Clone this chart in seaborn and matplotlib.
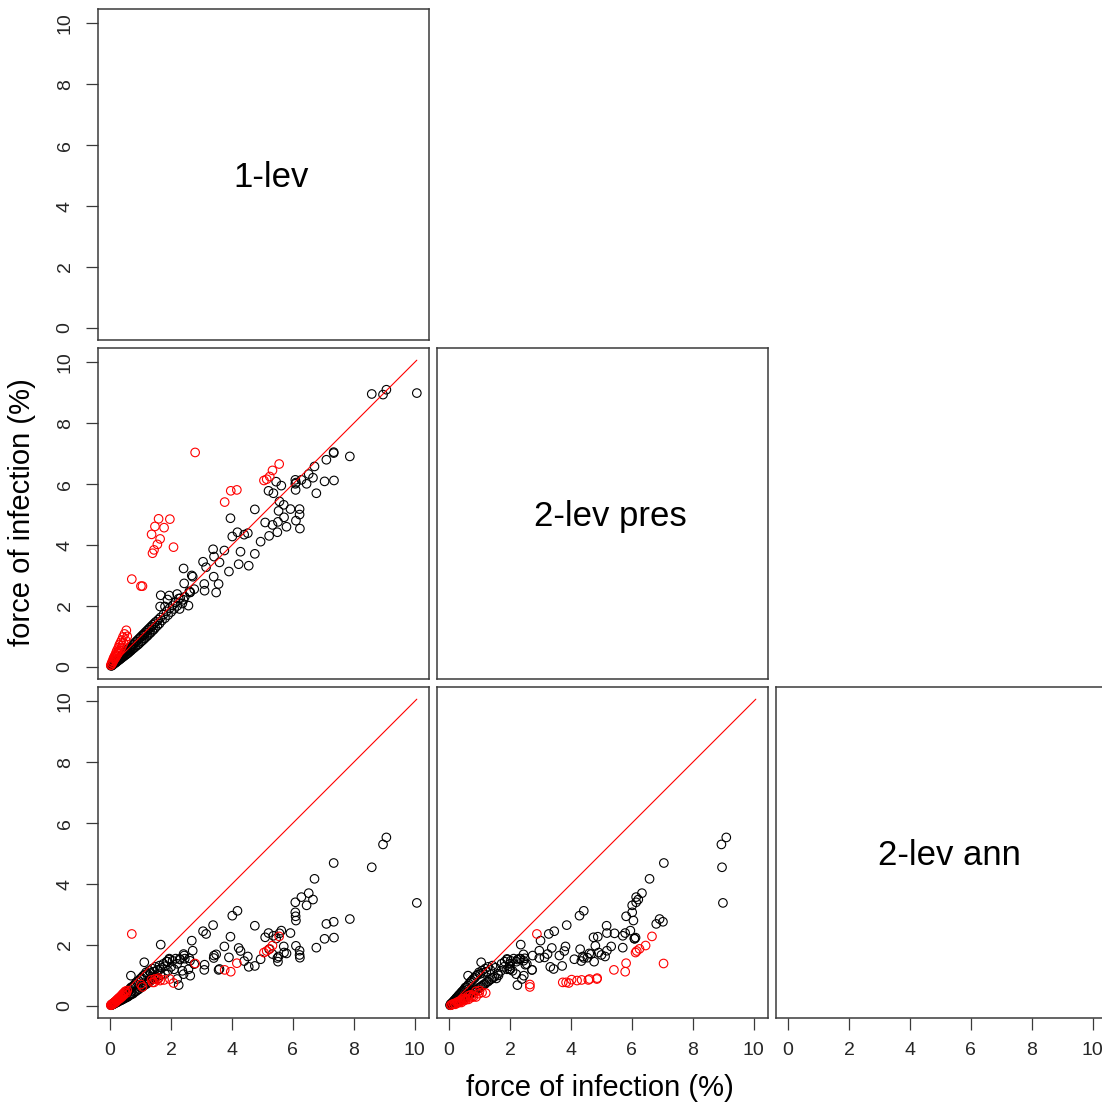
import numpy as np
import pandas as pd
import matplotlib
matplotlib.use("Agg")
import matplotlib.pyplot as plt
import seaborn as sns

# ---------------- data ----------------
var_labels = ["1-lev", "2-lev pres", "2-lev ann"]
axis_title = "force of infection (%)"
tick_values = [0, 2, 4, 6, 8, 10]

black_lev1 = [10.07, 9.07, 8.96, 8.59, 7.87, 7.34, 7.34, 7.35, 7.10, 7.04, 6.77, 6.71, 6.66, 6.52, 6.45,
              6.28, 6.08, 6.08, 6.09, 6.10, 6.22, 6.22, 6.10, 6.23, 5.92, 5.79, 5.70, 5.71, 5.62, 5.56,
              5.49, 5.51, 5.45, 5.33, 5.20, 5.22, 5.53, 5.36, 5.09, 4.94, 4.75, 4.18, 4.01, 3.38, 3.15,
              3.05, 2.68, 3.95, 4.75, 4.55, 4.52, 4.40, 4.28, 4.22, 3.90, 3.75, 3.59, 3.56, 3.48, 3.40,
              3.41, 3.10, 3.09, 2.71, 2.57, 2.62, 2.43, 2.41, 2.37, 2.28, 2.20, 2.63, 2.41, 2.76, 1.66,
              1.94, 1.88, 1.80, 1.64, 2.25,
              0.03, 0.05, 0.07, 0.08, 0.10, 0.12, 0.13, 0.15, 0.17, 0.18, 0.20, 0.22, 0.23, 0.25, 0.27,
              0.28, 0.30, 0.32, 0.34, 0.35, 0.37, 0.39, 0.40, 0.42, 0.44, 0.46, 0.48, 0.50, 0.52, 0.54,
              0.56, 0.58, 0.60, 0.62, 0.64, 0.66, 0.68, 0.70, 0.72, 0.75, 0.77, 0.80, 0.82, 0.85, 0.88,
              0.90, 0.93, 0.95, 0.98, 1.00, 1.03, 1.05, 1.08, 1.10, 1.13, 1.15, 1.18, 1.20, 1.23, 1.25,
              1.28, 1.30, 1.33, 1.35, 1.38, 1.40, 1.43, 1.45, 1.48, 1.50, 1.55, 1.58, 1.62, 1.65, 1.70,
              1.75, 1.80, 1.85, 1.90, 1.95, 2.00, 2.05, 2.10, 2.15, 2.20, 2.30, 1.12, 0.68, 2.45, 2.60]
black_pres2 = [8.99, 9.10, 8.94, 8.96, 6.91, 7.05, 7.02, 6.12, 6.80, 6.09, 5.70, 6.58, 6.21, 6.33, 6.01,
               6.14, 6.14, 6.01, 5.81, 6.05, 5.18, 5.00, 4.80, 4.54, 5.18, 4.60, 5.32, 4.91, 5.95, 5.43,
               4.42, 4.76, 6.08, 4.66, 5.78, 4.30, 5.12, 5.70, 4.74, 4.11, 5.17, 4.42, 4.28, 3.86, 3.27,
               3.45, 3.00, 4.88, 3.71, 3.32, 4.39, 4.34, 3.78, 3.37, 3.13, 3.82, 3.43, 2.72, 2.44, 2.96,
               3.62, 2.50, 2.72, 2.96, 2.01, 2.44, 2.74, 3.23, 2.08, 1.90, 2.39, 2.45, 2.20, 2.55, 2.35,
               2.34, 2.21, 1.98, 1.98, 2.24,
               0.03, 0.04, 0.05, 0.08, 0.08, 0.11, 0.10, 0.14, 0.13, 0.17, 0.15, 0.20, 0.18, 0.24, 0.21,
               0.27, 0.23, 0.30, 0.26, 0.34, 0.29, 0.37, 0.31, 0.40, 0.34, 0.44, 0.37, 0.48, 0.40, 0.52,
               0.43, 0.56, 0.46, 0.60, 0.50, 0.64, 0.53, 0.68, 0.57, 0.73, 0.61, 0.78, 0.65, 0.83, 0.70,
               0.88, 0.74, 0.93, 0.79, 0.98, 0.84, 1.03, 0.88, 1.08, 0.93, 1.13, 0.98, 1.18, 1.02, 1.23,
               1.08, 1.28, 1.12, 1.33, 1.18, 1.38, 1.22, 1.43, 1.28, 1.48, 1.35, 1.55, 1.42, 1.62, 1.52,
               1.72, 1.60, 1.82, 1.70, 1.92, 1.80, 2.02, 1.90, 2.12, 2.00, 2.25, 1.05, 0.62, 2.30, 2.48]
black_ann2 = [3.38, 5.53, 5.30, 4.55, 2.85, 4.69, 2.76, 2.24, 2.69, 2.20, 1.91, 4.17, 3.49, 3.70, 3.30,
              3.57, 3.40, 3.07, 2.94, 2.80, 1.81, 1.67, 1.97, 1.58, 2.39, 1.72, 1.95, 1.75, 2.47, 2.38,
              1.57, 1.45, 2.21, 1.70, 2.39, 1.86, 1.62, 2.30, 2.25, 1.53, 2.63, 3.12, 2.96, 2.65, 2.36,
              2.45, 2.14, 2.27, 1.31, 1.28, 1.62, 1.47, 1.80, 1.90, 1.59, 1.95, 1.21, 1.18, 1.69, 1.57,
              1.65, 1.35, 1.18, 1.81, 1.20, 1.48, 1.65, 1.70, 1.15, 1.54, 0.88, 0.99, 1.04, 1.37, 2.01,
              1.55, 1.45, 1.30, 1.20, 0.68,
              0.02, 0.03, 0.06, 0.04, 0.08, 0.06, 0.10, 0.08, 0.13, 0.10, 0.16, 0.11, 0.19, 0.13, 0.22,
              0.15, 0.25, 0.17, 0.28, 0.18, 0.31, 0.20, 0.34, 0.22, 0.37, 0.24, 0.40, 0.26, 0.44, 0.28,
              0.47, 0.30, 0.50, 0.33, 0.55, 0.36, 0.60, 0.38, 0.62, 0.40, 0.66, 0.45, 0.72, 0.48, 0.78,
              0.52, 0.82, 0.55, 0.88, 0.60, 0.92, 0.62, 0.98, 0.66, 1.02, 0.70, 1.10, 0.72, 1.05, 0.78,
              1.15, 0.80, 1.08, 0.85, 1.22, 0.88, 1.12, 0.92, 1.28, 0.95, 1.18, 0.90, 1.32, 1.00, 1.25,
              1.38, 1.05, 1.45, 1.15, 1.52, 1.28, 1.48, 1.20, 1.55, 1.38, 1.52, 1.43, 0.99, 1.55, 1.56]

red_lev1 = [5.55, 5.33, 5.24, 5.14, 5.05, 4.16, 3.96, 3.76, 2.79, 0.71, 1.01, 1.06, 1.59, 1.96, 1.47,
            1.77, 1.36, 1.64, 1.55, 2.08, 1.44, 1.39,
            0.02, 0.04, 0.05, 0.07, 0.08, 0.10, 0.11, 0.13, 0.14, 0.16, 0.17, 0.19, 0.20, 0.22, 0.23,
            0.25, 0.27, 0.28, 0.30, 0.32, 0.34, 0.36, 0.38, 0.40, 0.42, 0.44, 0.47, 0.50, 0.53, 0.56]
red_pres2 = [6.66, 6.45, 6.25, 6.16, 6.12, 5.81, 5.78, 5.41, 7.04, 2.88, 2.65, 2.65, 4.86, 4.85, 4.61,
             4.57, 4.35, 4.20, 4.02, 3.93, 3.84, 3.73,
             0.05, 0.07, 0.13, 0.12, 0.20, 0.18, 0.28, 0.24, 0.34, 0.28, 0.40, 0.33, 0.48, 0.38, 0.55,
             0.43, 0.63, 0.50, 0.72, 0.55, 0.80, 0.62, 0.88, 0.70, 0.98, 0.78, 1.08, 0.88, 1.20, 1.00]
red_ann2 = [2.28, 1.98, 1.87, 1.80, 1.75, 1.40, 1.12, 1.18, 1.39, 2.36, 0.70, 0.62, 0.91, 0.88, 0.88,
            0.85, 0.85, 0.83, 0.86, 0.75, 0.77, 0.77,
            0.02, 0.03, 0.05, 0.06, 0.05, 0.08, 0.09, 0.10, 0.12, 0.13, 0.11, 0.15, 0.17, 0.16, 0.20,
            0.22, 0.21, 0.25, 0.27, 0.24, 0.30, 0.33, 0.29, 0.36, 0.40, 0.35, 0.44, 0.48, 0.42, 0.50]

df = pd.DataFrame({
    "1-lev": black_lev1 + red_lev1,
    "2-lev pres": black_pres2 + red_pres2,
    "2-lev ann": black_ann2 + red_ann2,
    "group": ["black"] * len(black_lev1) + ["red"] * len(red_lev1),
})

# ---------------- style ----------------
sns.set_style("white")
plt.rcParams["font.family"] = ["Liberation Sans", "DejaVu Sans"]

W, H = 1102, 1104
fig = plt.figure(figsize=(W / 100, H / 100), dpi=100)
col_left = [98, 437, 776]
row_top = [9, 348, 687]
PW = 331
lims = (-0.40, 10.47)
frame_col = "#3a3a3a"
txt_col = "#262626"

def rect(left, top):
    return [left / W, 1 - (top + PW) / H, PW / W, PW / H]

all_vals = np.concatenate([df[v].to_numpy() for v in var_labels])
line_pts = pd.DataFrame({"a": [all_vals.min(), all_vals.max()]})

for i in range(3):
    for j in range(i + 1):
        ax = fig.add_axes(rect(col_left[j], row_top[i]))
        ax.set_xlim(lims)
        ax.set_ylim(lims)
        if i == j:
            ax.text(0.524, 0.49, var_labels[i], transform=ax.transAxes,
                    ha="center", va="center", fontsize=25, color="black")
        else:
            xv, yv = var_labels[j], var_labels[i]
            sns.scatterplot(data=df, x=xv, y=yv, hue="group",
                            palette={"black": "black", "red": "red"},
                            s=38, marker="o", linewidth=0.8, legend=False, ax=ax)
            coll = ax.collections[-1]
            coll.set_edgecolors(coll.get_facecolors())
            coll.set_facecolors("none")
            sns.lineplot(data=line_pts, x="a", y="a", color="red", linewidth=0.8, ax=ax)
        ax.set_xlabel("")
        ax.set_ylabel("")
        for sp in ax.spines.values():
            sp.set_color(frame_col)
            sp.set_linewidth(1.1)
            sp.set_visible(True)
        ax.tick_params(direction="out", length=8.5, width=0.9, color=frame_col,
                       labelsize=14, labelcolor=txt_col, pad=9)
        if j == 0:
            ax.set_yticks(tick_values)
            ax.set_yticklabels([str(t) for t in tick_values])
            for lab in ax.get_yticklabels():
                lab.set_rotation(90)
                lab.set_va("center")
                lab.set_ha("right")
        else:
            ax.set_yticks([])
        if i == 2:
            ax.set_xticks(tick_values)
            ax.set_xticklabels([str(t) for t in tick_values])
        else:
            ax.set_xticks([])
        ax.tick_params(left=(j == 0), bottom=(i == 2))

fig.text(600 / W, 1 - 1088 / H, axis_title, ha="center", va="center", fontsize=21, color="black")
fig.text(22 / W, 1 - 512 / H, axis_title, ha="center", va="center", fontsize=21,
         rotation=90, color="black")

fig.savefig("out.png", dpi=100)
